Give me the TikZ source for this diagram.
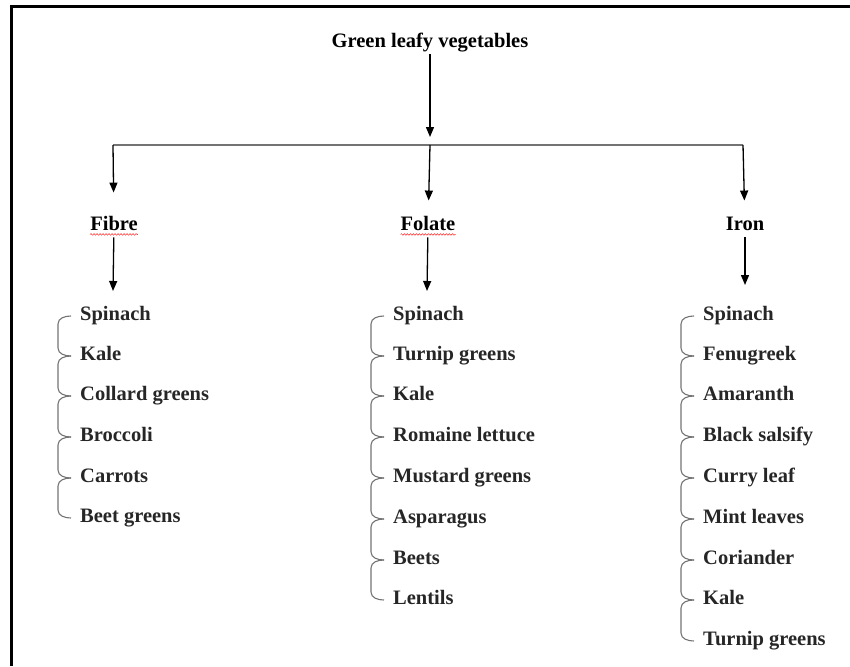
\documentclass[tikz,border=0pt]{standalone}
\usepackage{fontspec}
\setmainfont{Liberation Serif}
\usetikzlibrary{arrows.meta,decorations.pathmorphing}

\begin{document}
\begin{tikzpicture}[
    x=1pt, y=-1pt,
    every node/.style={font=\fontsize{20.5}{24}\selectfont\bfseries,
        text height=14pt, text depth=4.5pt},
    head/.style={inner sep=2pt, text=black},
    item/.style={anchor=west, inner sep=2pt, text=black!85},
    arrow/.style={-{Triangle[length=10pt,width=8pt]}, line width=1.3pt},
    bar/.style={line width=1.6pt, draw=black!55},
    brace/.style={line width=1.1pt, draw=black!55},
    squiggle/.style={draw=red!75, line width=0.6pt, decorate,
        decoration={snake, amplitude=0.8pt, segment length=3pt}},
    frame/.style={line width=3pt}
]
    \useasboundingbox (0,0) rectangle (850,666);

% -------------------------
% Frame
% -------------------------
    \draw[frame] (850,7) -- (11,7) -- (11,666);

% -------------------------
% Headers
% -------------------------
    \node[head] (title) at (430,43) {Green leafy vegetables};
    \node[head] (fibre) at (114,226) {Fibre};
    \node[head] (folate) at (428,226) {Folate};
    \node[head] (iron) at (745,226) {Iron};

    \draw[squiggle] ([xshift=2pt, yshift=3pt]fibre.south west) -- ([xshift=-2pt, yshift=3pt]fibre.south east);
    \draw[squiggle] ([xshift=2pt, yshift=3pt]folate.south west) -- ([xshift=-2pt, yshift=3pt]folate.south east);

% -------------------------
% Branch points
% -------------------------
    \coordinate (barL) at (113,145);
    \coordinate (barM) at (430,145);
    \coordinate (barR) at (743,145);
    \coordinate (fibreEnd) at (113,291);
    \coordinate (folateEnd) at (427,291);
    \coordinate (ironEnd) at (745,285);

% -------------------------
% Column 1 - Fibre
% -------------------------
    \node[item] (fb1) at (78,316) {Spinach};
    \node[item] (fb2) at (78,356) {Kale};
    \node[item] (fb3) at (78,396) {Collard greens};
    \node[item] (fb4) at (78,437) {Broccoli};
    \node[item] (fb5) at (78,478) {Carrots};
    \node[item] (fb6) at (78,518) {Beet greens};

% -------------------------
% Column 2 - Folate
% -------------------------
    \node[item] (fo1) at (391,316) {Spinach};
    \node[item] (fo2) at (391,356) {Turnip greens};
    \node[item] (fo3) at (391,396) {Kale};
    \node[item] (fo4) at (391,437) {Romaine lettuce};
    \node[item] (fo5) at (391,478) {Mustard greens};
    \node[item] (fo6) at (391,519) {Asparagus};
    \node[item] (fo7) at (391,560) {Beets};
    \node[item] (fo8) at (391,600) {Lentils};

% -------------------------
% Column 3 - Iron
% -------------------------
    \node[item] (ir1) at (701,316) {Spinach};
    \node[item] (ir2) at (701,356) {Fenugreek};
    \node[item] (ir3) at (701,396) {Amaranth};
    \node[item] (ir4) at (701,437) {Black salsify};
    \node[item] (ir5) at (701,478) {Curry leaf};
    \node[item] (ir6) at (701,519) {Mint leaves};
    \node[item] (ir7) at (701,560) {Coriander};
    \node[item] (ir8) at (701,600) {Kale};
    \node[item] (ir9) at (701,641) {Turnip greens};

% -------------------------
% Arrows
% -------------------------
    \draw[arrow, shorten >=8pt] (title) -- (barM);
    \draw[bar] (barL) -- (barR);
    \draw[arrow, shorten >=22pt] (barL) -- (fibre);
    \draw[arrow, shorten >=14pt] (barM) -- (folate);
    \draw[arrow, shorten >=14pt] (barR) -- (iron);

    \draw[arrow] (fibre) -- (fibreEnd);
    \draw[arrow] (folate) -- (folateEnd);
    \draw[arrow] (iron) -- (ironEnd);

    % Brace links between neighbouring items
    \foreach \a/\b in {fb1/fb2, fb2/fb3, fb3/fb4, fb4/fb5, fb5/fb6,
        fo1/fo2, fo2/fo3, fo3/fo4, fo4/fo5, fo5/fo6, fo6/fo7, fo7/fo8,
        ir1/ir2, ir2/ir3, ir3/ir4, ir4/ir5, ir5/ir6, ir6/ir7, ir7/ir8, ir8/ir9}
        \draw[brace] ([xshift=-7pt]\a.west) to[out=180, in=90]
            ([xshift=-20pt, yshift=-8pt]\a.west) --
            ([xshift=-20pt, yshift=8pt]\b.west) to[out=270, in=180]
            ([xshift=-7pt]\b.west);
\end{tikzpicture}
\end{document}
